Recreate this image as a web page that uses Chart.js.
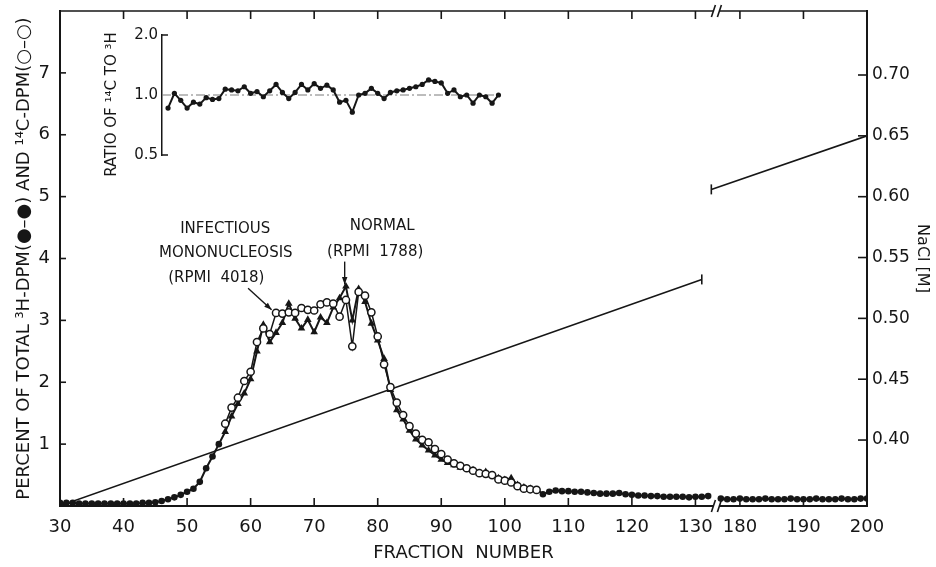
<!DOCTYPE html>
<html>
<head>
<meta charset="utf-8">
<script src="https://cdn.jsdelivr.net/npm/chart.js@4.4.1/dist/chart.umd.min.js"></script>
<style>
  body { margin: 0; background: #fff; }
  #wrap { position: relative; width: 936px; height: 567px; }
  canvas { position: absolute; left: 0; top: 0; }
</style>
</head>
<body>
<div id="wrap">
  <canvas id="elutionChart" width="936" height="567"></canvas>
  <canvas id="ratioChart" width="936" height="567"></canvas>
</div>
<script>
// 3H-DPM, % of total, fractions 30..132 and 177..200
const h3Start = 30;
const h3Values = [
  0.05, 0.05, 0.05, 0.04, 0.04, 0.04, 0.04, 0.04, 0.04, 0.04, 0.04, 0.04, 0.04, 0.05, 0.05, 0.06,
  0.08, 0.11, 0.14, 0.18, 0.23, 0.28, 0.39, 0.61, 0.80, 1.00,
  1.20, 1.45, 1.65, 1.82, 2.05, 2.50, 2.93, 2.65, 2.80, 2.96,
  3.27, 3.03, 2.87, 3.01, 2.81, 3.05, 2.96, 3.21, 3.36, 3.55,
  3.00, 3.51, 3.30, 2.95, 2.68, 2.38, 1.88, 1.55, 1.40, 1.22,
  1.08, 0.98, 0.90, 0.82, 0.75, 0.70, 0.66, 0.62, 0.60, 0.58,
  0.53, 0.55, 0.50, 0.45, 0.42, 0.45, 0.34, 0.30, 0.28, 0.27,
  0.19, 0.23, 0.25, 0.24, 0.24, 0.23, 0.23, 0.22, 0.21, 0.20,
  0.20, 0.20, 0.21, 0.19, 0.18, 0.17, 0.17, 0.16, 0.16, 0.15,
  0.15, 0.15, 0.15, 0.14, 0.15, 0.15, 0.16
];
const h3TailStart = 177;
const h3TailValues = [
  0.12, 0.11, 0.11, 0.12, 0.11, 0.11, 0.11, 0.12, 0.11, 0.11, 0.11, 0.12,
  0.11, 0.11, 0.11, 0.12, 0.11, 0.11, 0.11, 0.12, 0.11, 0.11, 0.12, 0.12
];

// 14C-DPM, % of total, fractions 56..105
const c14Start = 56;
const c14Values = [
  1.33, 1.59, 1.75, 2.02, 2.17, 2.65, 2.87, 2.78, 3.12, 3.11,
  3.13, 3.12, 3.20, 3.17, 3.16, 3.26, 3.29, 3.27, 3.06, 3.33,
  2.58, 3.46, 3.40, 3.13, 2.74, 2.29, 1.92, 1.67, 1.47, 1.29,
  1.17, 1.07, 1.03, 0.92, 0.84, 0.75, 0.69, 0.65, 0.61, 0.57,
  0.53, 0.52, 0.50, 0.43, 0.41, 0.38, 0.32, 0.28, 0.27, 0.26
];

// inset: ratio of 14C to 3H, fractions 47..99
const ratioStart = 47;
const ratioValues = [
  0.86, 1.02, 0.94, 0.86, 0.92, 0.90, 0.97, 0.95, 0.96, 1.07,
  1.06, 1.05, 1.10, 1.02, 1.04, 0.98, 1.05, 1.13, 1.03, 0.96,
  1.03, 1.13, 1.06, 1.14, 1.08, 1.12, 1.06, 0.92, 0.94, 0.82,
  1.00, 1.02, 1.08, 1.02, 0.96, 1.03, 1.05, 1.06, 1.08, 1.10,
  1.13, 1.19, 1.17, 1.15, 1.02, 1.06, 0.98, 1.00, 0.91, 1.00,
  0.98, 0.91, 1.00
];

// NaCl gradient, end points of the two drawn pieces
const naclFractions = [30, 131, 175.5, 200];
const naclValues = [0.346, 0.532, 0.606, 0.650];

const xTickFractions = [30, 40, 50, 60, 70, 80, 90, 100, 110, 120, 130, 180, 190, 200];
const yTicks = [1, 2, 3, 4, 5, 6, 7];
const naclTicks = [0.40, 0.45, 0.50, 0.55, 0.60, 0.65, 0.70];
const ratioTicks = [0.5, 1.0, 2.0];

const ink = "#161616";
const font = "'DejaVu Sans', sans-serif";

// fractions past the break are pulled left so 180 sits next to 130
const breakShift = 43;
const breakAt = 133.3;
const axisX = (f) => (f > 150 ? f - breakShift : f);
const points = (start, vals) => vals.map((v, i) => ({ x: axisX(start + i), y: v }));

const h3Data = points(h3Start, h3Values)
  .concat([{ x: breakAt, y: null }], points(h3TailStart, h3TailValues));
const c14Data = points(c14Start, c14Values);
const naclData = [
  { x: axisX(naclFractions[0]), y: naclValues[0] },
  { x: axisX(naclFractions[1]), y: naclValues[1] },
  { x: breakAt, y: null },
  { x: axisX(naclFractions[2]), y: naclValues[2] },
  { x: axisX(naclFractions[3]), y: naclValues[3] },
];

const notes = [
  { text: "INFECTIOUS", x: 56.0, y: 4.47 },
  { text: "MONONUCLEOSIS", x: 56.1, y: 4.08 },
  { text: "(RPMI  4018)", x: 54.6, y: 3.69 },
  { text: "NORMAL", x: 80.7, y: 4.52 },
  { text: "(RPMI  1788)", x: 79.6, y: 4.1 },
];
const arrows = [
  { from: [59.6, 3.52], to: [63.3, 3.17] },
  { from: [74.8, 3.95], to: [74.8, 3.58] },
];

function seg(ctx, x1, y1, x2, y2) {
  ctx.beginPath();
  ctx.moveTo(x1, y1);
  ctx.lineTo(x2, y2);
  ctx.stroke();
}

// keep the plot area where the reference has it: no extra room for label overhang
function fixedSize(w, h) {
  return (s) => {
    if (w !== null) s.width = w;
    if (h !== null) s.height = h;
    s.paddingTop = 0;
    s.paddingBottom = 0;
    s.paddingLeft = 0;
    s.paddingRight = 0;
  };
}

const framePlugin = {
  id: "frame",
  afterDraw(chart) {
    const { ctx, chartArea: a, scales } = chart;
    const { x, y, y2 } = scales;
    ctx.save();
    ctx.strokeStyle = ink;
    ctx.fillStyle = ink;
    ctx.lineWidth = 1.6;
    seg(ctx, a.left, a.top, a.right, a.top);

    xTickFractions.forEach((f) => {
      const px = x.getPixelForValue(axisX(f));
      seg(ctx, px, a.bottom, px, a.bottom - 8);
      if (f !== 30 && f !== 200) seg(ctx, px, a.top, px, a.top + 8);
    });
    yTicks.forEach((v) => {
      const py = y.getPixelForValue(v);
      seg(ctx, a.left, py, a.left + 6, py);
    });
    naclTicks.forEach((v) => {
      const py = y2.getPixelForValue(v);
      seg(ctx, a.right, py, a.right - 9, py);
    });

    // axis break marks
    const bx = x.getPixelForValue(breakAt);
    [a.top, a.bottom].forEach((yy) => {
      ctx.fillStyle = "#fff";
      ctx.fillRect(bx - 3, yy - 3, 6, 6);
      ctx.fillStyle = ink;
      seg(ctx, bx - 5, yy + 6, bx - 1, yy - 6);
      seg(ctx, bx + 1, yy + 6, bx + 5, yy - 6);
    });

    // labels for the two cell lines
    ctx.font = "15px " + font;
    ctx.textAlign = "center";
    ctx.textBaseline = "middle";
    notes.forEach((n) => {
      ctx.fillText(n.text, x.getPixelForValue(n.x), y.getPixelForValue(n.y));
    });
    ctx.lineWidth = 1.4;
    arrows.forEach((ar) => {
      const x1 = x.getPixelForValue(ar.from[0]), y1 = y.getPixelForValue(ar.from[1]);
      const x2 = x.getPixelForValue(ar.to[0]), y2p = y.getPixelForValue(ar.to[1]);
      seg(ctx, x1, y1, x2, y2p);
      const ang = Math.atan2(y2p - y1, x2 - x1);
      ctx.beginPath();
      ctx.moveTo(x2, y2p);
      ctx.lineTo(x2 - 8 * Math.cos(ang - 0.35), y2p - 8 * Math.sin(ang - 0.35));
      ctx.lineTo(x2 - 8 * Math.cos(ang + 0.35), y2p - 8 * Math.sin(ang + 0.35));
      ctx.closePath();
      ctx.fill();
    });
    ctx.restore();
  },
};

new Chart("elutionChart", {
  type: "line",
  data: {
    datasets: [
      {
        label: "14C-DPM",
        data: c14Data,
        borderColor: ink,
        borderWidth: 1.5,
        pointRadius: 3.6,
        pointBorderWidth: 1.5,
        pointBorderColor: ink,
        pointBackgroundColor: "#fff",
        yAxisID: "y",
      },
      {
        label: "3H-DPM",
        data: h3Data,
        borderColor: ink,
        borderWidth: 2,
        pointStyle: (c) => (c.raw && c.raw.x >= 56 && c.raw.x <= 104 ? "triangle" : "circle"),
        pointRadius: (c) => (c.raw && c.raw.x >= 56 && c.raw.x <= 104 ? 4.4 : 3.3),
        pointBorderWidth: 0,
        pointBackgroundColor: ink,
        yAxisID: "y",
      },
      {
        label: "NaCl",
        data: naclData,
        borderColor: ink,
        borderWidth: 1.6,
        pointStyle: "line",
        rotation: 90,
        pointRadius: [0, 5, 0, 5, 0],
        pointBorderWidth: 1.6,
        pointBorderColor: ink,
        yAxisID: "y2",
      },
    ],
  },
  options: {
    responsive: false,
    animation: false,
    devicePixelRatio: 1,
    layout: { padding: { top: 11, left: 0, right: 0, bottom: 0 } },
    plugins: { legend: { display: false }, tooltip: { enabled: false } },
    scales: {
      x: {
        type: "linear",
        min: 30,
        max: 157,
        afterBuildTicks: (s) => { s.ticks = xTickFractions.map((f) => ({ value: axisX(f) })); },
        afterFit: fixedSize(null, 61),
        ticks: {
          autoSkip: false, maxRotation: 0, padding: 11, color: ink,
          font: { family: font, size: 18 },
          callback: (v, i) => String(xTickFractions[i]),
        },
        grid: { display: false, drawTicks: false },
        border: { color: ink, width: 2 },
        title: {
          display: true, text: "FRACTION  NUMBER", color: ink,
          font: { family: font, size: 18 }, padding: { top: 0, bottom: 3 },
        },
      },
      y: {
        position: "left",
        min: 0,
        max: 8,
        afterBuildTicks: (s) => { s.ticks = yTicks.map((v) => ({ value: v })); },
        afterFit: fixedSize(60, null),
        ticks: { padding: 10, color: ink, font: { family: font, size: 18 }, callback: (v) => String(v) },
        grid: { display: false, drawTicks: false },
        border: { color: ink, width: 2 },
        title: {
          display: true, text: "PERCENT OF TOTAL ³H-DPM(●–●) AND ¹⁴C-DPM(○–○)", color: ink,
          font: { family: font, size: 18 }, padding: { top: 14, bottom: 0 },
        },
      },
      y2: {
        position: "right",
        min: 0.3458,
        max: 0.7526,
        afterBuildTicks: (s) => { s.ticks = naclTicks.map((v) => ({ value: v })); },
        afterFit: fixedSize(69, null),
        ticks: { padding: 5, color: ink, font: { family: font, size: 17 }, callback: (v) => v.toFixed(2) },
        grid: { display: false, drawTicks: false },
        border: { color: ink, width: 2 },
        title: {
          display: true, text: "NaCl [M]", color: ink,
          font: { family: font, size: 16 }, padding: { top: 4, bottom: 0 },
        },
      },
    },
  },
  plugins: [framePlugin],
});

const insetPlugin = {
  id: "insetTicks",
  afterDraw(chart) {
    const { ctx, chartArea: a, scales: { y } } = chart;
    ctx.save();
    ctx.strokeStyle = ink;
    ctx.lineWidth = 1.5;
    [0.5, 2.0].forEach((v) => {
      const py = y.getPixelForValue(v);
      seg(ctx, a.left, py, a.left + 6, py);
    });
    ctx.restore();
  },
};

new Chart("ratioChart", {
  type: "line",
  data: {
    datasets: [
      {
        data: points(ratioStart, ratioValues),
        borderColor: ink,
        borderWidth: 2,
        pointRadius: 2.6,
        pointBorderWidth: 0,
        pointBackgroundColor: ink,
      },
      {
        data: [{ x: 46.05, y: 1 }, { x: 99, y: 1 }],
        borderColor: "#7a7a7a",
        borderWidth: 1,
        borderDash: [9, 3, 2, 3],
        pointRadius: 0,
      },
    ],
  },
  options: {
    responsive: false,
    animation: false,
    devicePixelRatio: 1,
    layout: { padding: { left: 100, top: 35, right: 69, bottom: 412 } },
    plugins: { legend: { display: false }, tooltip: { enabled: false } },
    scales: {
      x: { type: "linear", display: false, min: 46.05, max: 157 },
      y: {
        type: "logarithmic",
        min: 0.5,
        max: 2,
        afterBuildTicks: (s) => { s.ticks = ratioTicks.map((v) => ({ value: v })); },
        afterFit: fixedSize(62, null),
        ticks: { padding: 4, color: ink, font: { family: font, size: 15 }, callback: (v) => v.toFixed(1) },
        grid: { display: false, drawTicks: false },
        border: { color: ink, width: 1.5 },
        title: {
          display: true, text: "RATIO OF ¹⁴C TO ³H    ", color: ink,
          font: { family: font, size: 15 }, padding: { top: 3, bottom: 0 },
        },
      },
    },
  },
  plugins: [insetPlugin],
});
</script>
</body>
</html>
